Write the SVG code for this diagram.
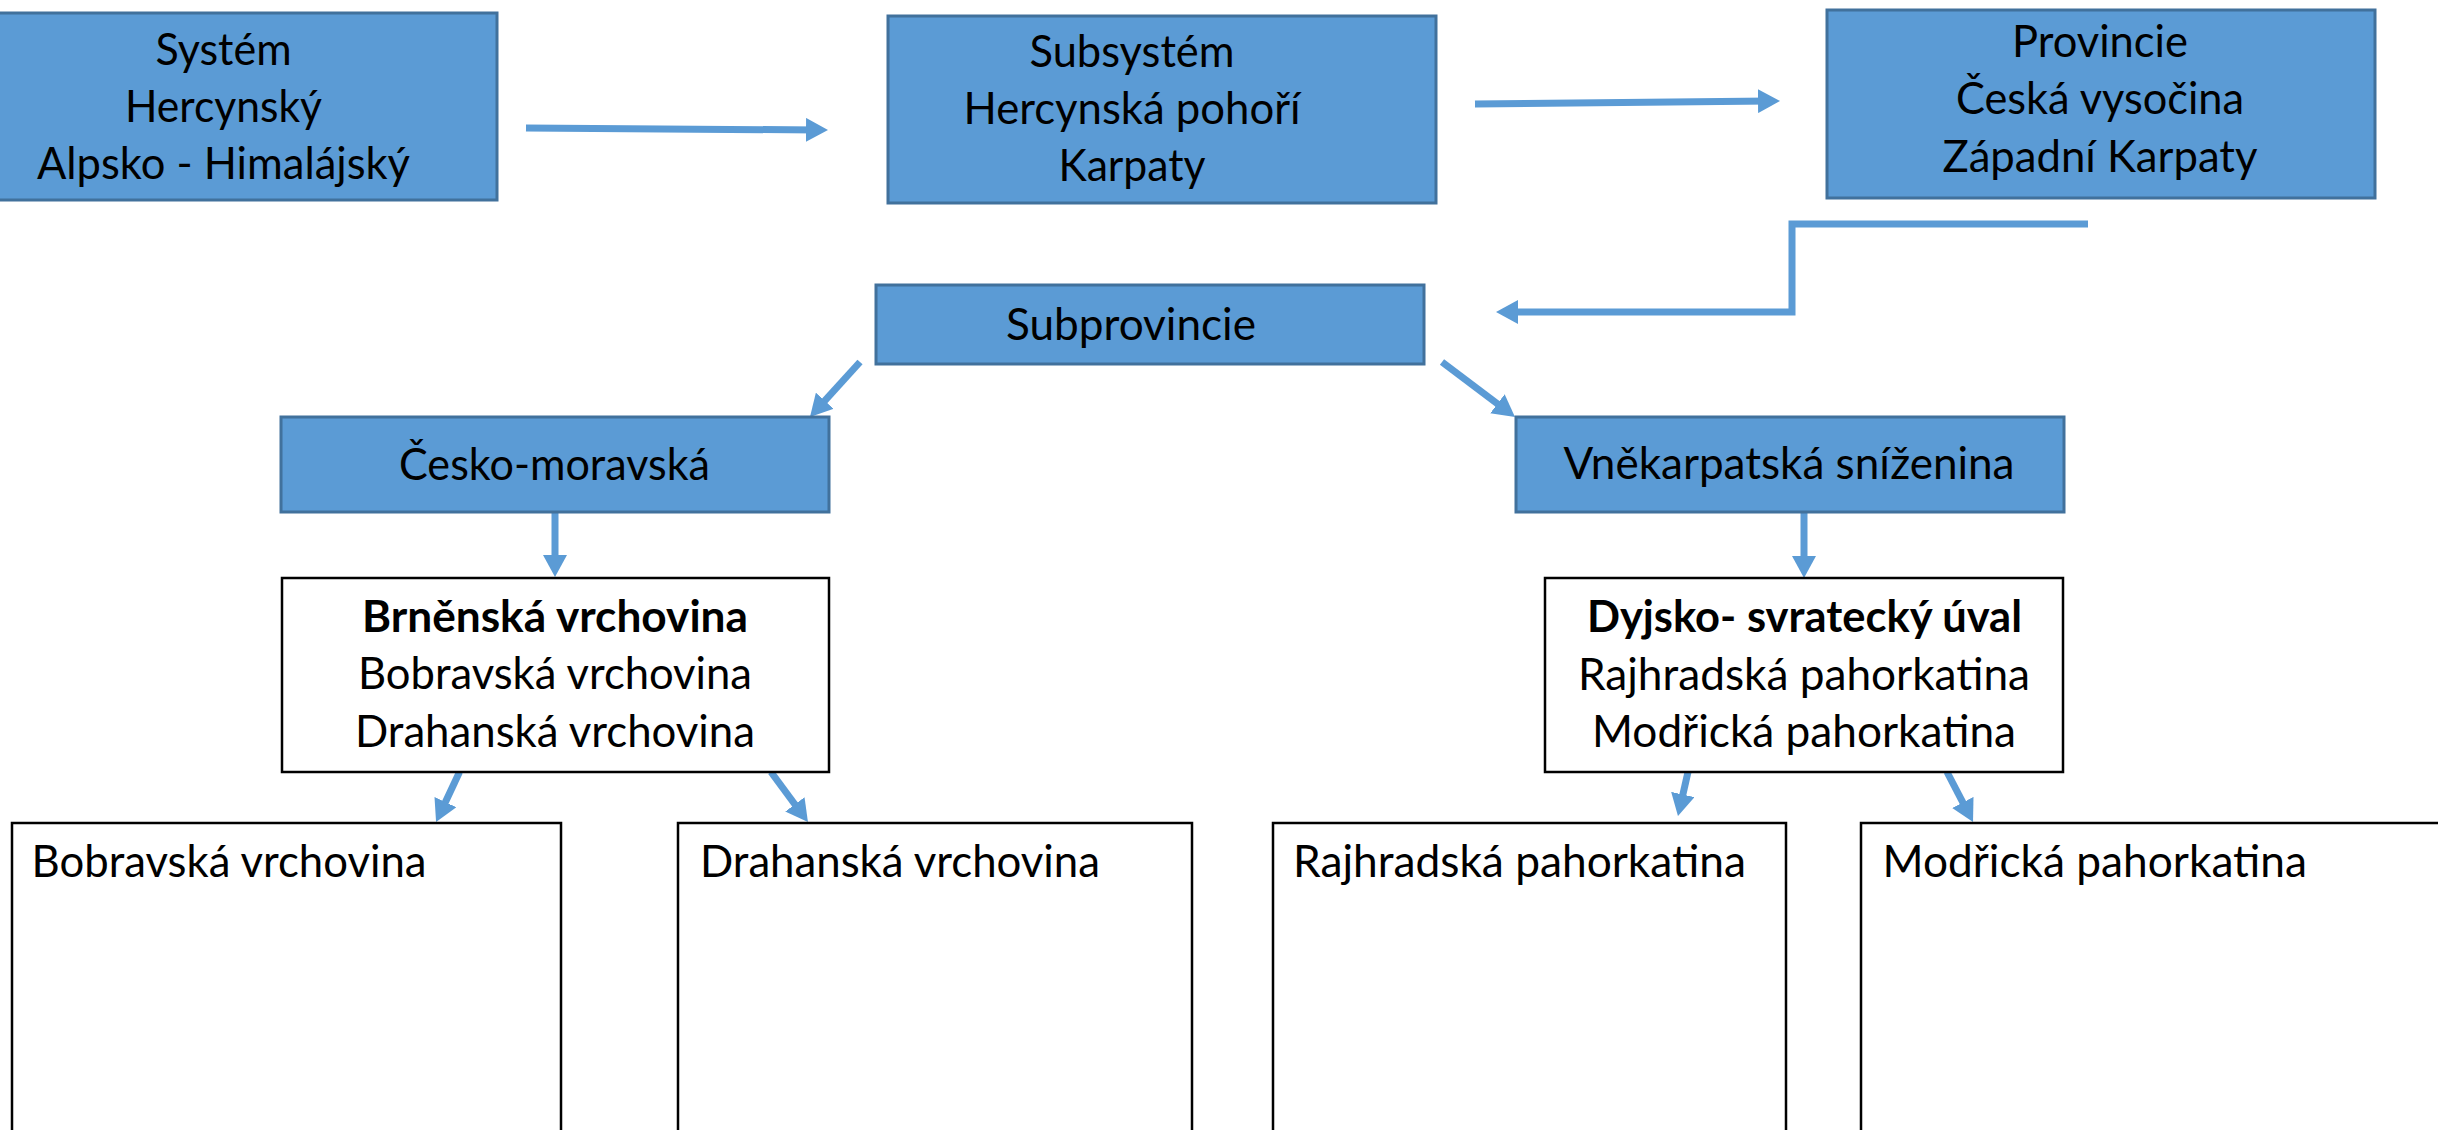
<svg xmlns="http://www.w3.org/2000/svg" width="2438" height="1130" viewBox="0 0 2438 1130">
<defs>
<marker id="ah" markerUnits="userSpaceOnUse" viewBox="0 0 22 24" refX="12" refY="12" markerWidth="22" markerHeight="24" orient="auto">
<path d="M0,0 L22,12 L0,24 z" fill="#5B9BD5"/>
</marker>
<style>
.blue{fill:#5B9BD5;stroke:#41719C;stroke-width:3}
.white{fill:#FFFFFF;stroke:#000000;stroke-width:2.5}
text{font-family:Lato,"Liberation Sans",sans-serif;font-size:44px;fill:#000000}
.c{text-anchor:middle}
.b{font-weight:bold}
.con{fill:none;stroke:#5B9BD5;stroke-width:7}
.arr{marker-end:url(#ah)}
</style>
</defs>
<rect width="2438" height="1130" fill="#FFFFFF"/>

<g id="connectors">
<line class="con arr" x1="526" y1="128" x2="818" y2="130"/>
<line class="con arr" x1="1475" y1="104" x2="1770" y2="101"/>
<polyline class="con arr" points="2088,224 1792,224 1792,312 1506,312"/>
<line class="con arr" x1="860" y1="362" x2="816.7" y2="409.6"/>
<line class="con arr" x1="1442" y1="362" x2="1507" y2="411"/>
<line class="con arr" x1="555" y1="512" x2="555" y2="567"/>
<line class="con arr" x1="1804" y1="512" x2="1804" y2="568"/>
<line class="con arr" x1="459.5" y1="772" x2="440.3" y2="813"/>
<line class="con arr" x1="771" y1="772" x2="802" y2="814"/>
<line class="con arr" x1="1688" y1="772" x2="1680.2" y2="806.2"/>
<line class="con arr" x1="1947" y1="772" x2="1968.4" y2="813.1"/>
</g>

<g id="system">
<rect class="blue" x="-10" y="13" width="507" height="187"/>
<text class="c" x="223.5" y="65" textLength="136" lengthAdjust="spacingAndGlyphs">Systém</text>
<text class="c" x="223.5" y="122" textLength="197" lengthAdjust="spacingAndGlyphs">Hercynský</text>
<text class="c" x="223.5" y="179" textLength="373" lengthAdjust="spacingAndGlyphs">Alpsko - Himalájský</text>
</g>

<g id="subsystem">
<rect class="blue" x="888" y="16" width="548" height="187"/>
<text class="c" x="1132" y="67" textLength="205" lengthAdjust="spacingAndGlyphs">Subsystém</text>
<text class="c" x="1132" y="124" textLength="337" lengthAdjust="spacingAndGlyphs">Hercynská pohoří</text>
<text class="c" x="1132" y="181" textLength="147" lengthAdjust="spacingAndGlyphs">Karpaty</text>
</g>

<g id="provincie">
<rect class="blue" x="1827" y="10" width="548" height="188"/>
<text class="c" x="2100" y="57" textLength="176" lengthAdjust="spacingAndGlyphs">Provincie</text>
<text class="c" x="2100" y="114" textLength="288" lengthAdjust="spacingAndGlyphs">Česká vysočina</text>
<text class="c" x="2100" y="172" textLength="315" lengthAdjust="spacingAndGlyphs">Západní Karpaty</text>
</g>

<g id="subprovincie">
<rect class="blue" x="876" y="285" width="548" height="79"/>
<text class="c" x="1131" y="340" textLength="250" lengthAdjust="spacingAndGlyphs">Subprovincie</text>
</g>

<g id="cesko-moravska">
<rect class="blue" x="281" y="417" width="548" height="95"/>
<text class="c" x="554.5" y="480" textLength="311" lengthAdjust="spacingAndGlyphs">Česko-moravská</text>
</g>

<g id="vnekarpatska">
<rect class="blue" x="1516" y="417" width="548" height="95"/>
<text class="c" x="1789" y="479" textLength="451" lengthAdjust="spacingAndGlyphs">Vněkarpatská sníženina</text>
</g>

<g id="brnenska">
<rect class="white" x="282" y="578" width="547" height="194"/>
<text class="c b" x="555" y="632" textLength="386" lengthAdjust="spacingAndGlyphs">Brněnská vrchovina</text>
<text class="c" x="555" y="689" textLength="394" lengthAdjust="spacingAndGlyphs">Bobravská vrchovina</text>
<text class="c" x="555" y="747" textLength="400" lengthAdjust="spacingAndGlyphs">Drahanská vrchovina</text>
</g>

<g id="dyjsko">
<rect class="white" x="1545" y="578" width="518" height="194"/>
<text class="c b" x="1804.5" y="632" textLength="435" lengthAdjust="spacingAndGlyphs">Dyjsko- svratecký úval</text>
<text class="c" x="1804" y="690" textLength="452" lengthAdjust="spacingAndGlyphs">Rajhradská pahorkatina</text>
<text class="c" x="1804" y="747" textLength="424" lengthAdjust="spacingAndGlyphs">Modřická pahorkatina</text>
</g>

<g id="bobravska">
<rect class="white" x="12" y="823" width="549" height="330"/>
<text x="31.5" y="877" textLength="395" lengthAdjust="spacingAndGlyphs">Bobravská vrchovina</text>
</g>

<g id="drahanska">
<rect class="white" x="678" y="823" width="514" height="330"/>
<text x="700" y="877" textLength="400" lengthAdjust="spacingAndGlyphs">Drahanská vrchovina</text>
</g>

<g id="rajhradska">
<rect class="white" x="1273" y="823" width="513" height="330"/>
<text x="1293" y="877" textLength="453" lengthAdjust="spacingAndGlyphs">Rajhradská pahorkatina</text>
</g>

<g id="modricka">
<rect class="white" x="1861" y="823" width="600" height="330"/>
<text x="1882.5" y="877" textLength="424.5" lengthAdjust="spacingAndGlyphs">Modřická pahorkatina</text>
</g>
</svg>
